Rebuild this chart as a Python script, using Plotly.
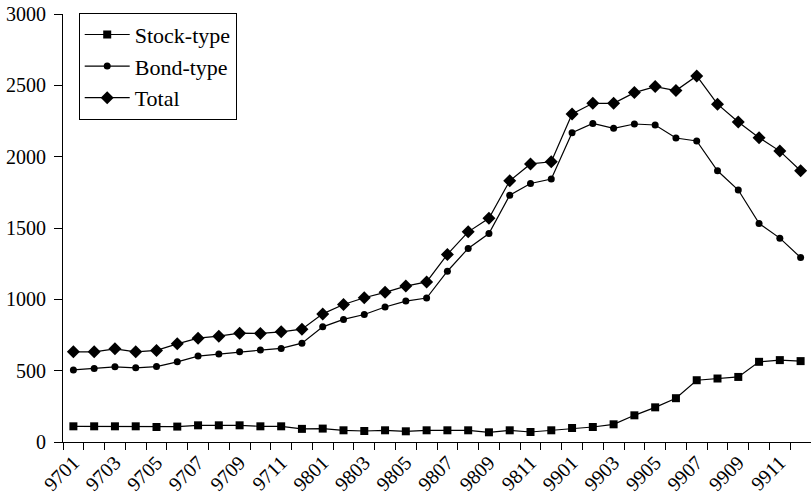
import plotly.graph_objects as go

months = [f"{y}{m:02d}" for y in (97, 98, 99) for m in range(1, 13)]
tick_text = [mo if i % 2 == 0 else "" for i, mo in enumerate(months)]

stock = [110, 110, 110, 110, 105, 108, 117, 117, 117, 110, 110, 92,
         94, 82, 77, 82, 75, 82, 82, 82, 68, 82, 70, 82,
         98, 105, 124, 187, 243, 307, 433, 445, 456, 562, 574, 567]
bond = [505, 515, 527, 520, 529, 562, 602, 616, 632, 644, 656, 693,
        807, 859, 894, 946, 988, 1009, 1197, 1357, 1461, 1730, 1812, 1843,
        2168, 2233, 2199, 2229, 2222, 2131, 2110, 1901, 1766, 1532, 1429, 1293]
total = [632, 632, 653, 632, 642, 688, 728, 742, 763, 761, 772, 791,
         898, 964, 1011, 1049, 1093, 1122, 1315, 1473, 1568, 1831, 1949, 1964,
         2299, 2374, 2374, 2449, 2491, 2463, 2566, 2368, 2243, 2133, 2039, 1901]

FONT = "Liberation Serif, Times New Roman, serif"

fig = go.Figure()
fig.add_trace(go.Scatter(x=months, y=stock, name="Stock-type", mode="lines+markers",
                         line=dict(color="black", width=1.2),
                         marker=dict(symbol="square", size=8, color="black")))
fig.add_trace(go.Scatter(x=months, y=bond, name="Bond-type", mode="lines+markers",
                         line=dict(color="black", width=1.2),
                         marker=dict(symbol="circle", size=7, color="black")))
fig.add_trace(go.Scatter(x=months, y=total, name="Total", mode="lines+markers",
                         line=dict(color="black", width=1.2),
                         marker=dict(symbol="diamond", size=10, color="black")))

fig.update_layout(
    width=811, height=498,
    margin=dict(l=63, r=0, t=14, b=56, autoexpand=False),
    paper_bgcolor="white", plot_bgcolor="white",
    font=dict(family=FONT, size=20, color="black"),
    showlegend=True,
    legend=dict(x=0.021, y=1.003, xanchor="left", yanchor="top",
                bordercolor="black", borderwidth=1, bgcolor="white",
                font=dict(family=FONT, size=22, color="black"),
                tracegroupgap=0, itemsizing="trace", itemwidth=45),
    xaxis=dict(type="category", range=[-0.5, 35.5], tickmode="array",
               tickvals=months, ticktext=tick_text, tickson="boundaries",
               ticks="outside", ticklen=7, tickcolor="black", tickwidth=1,
               tickangle=-45, showline=True, linecolor="black", linewidth=1,
               showgrid=False, zeroline=False, automargin=False,
               tickfont=dict(family=FONT, size=20, color="black")),
    yaxis=dict(range=[0, 3000], tickmode="array",
               tickvals=[0, 500, 1000, 1500, 2000, 2500, 3000],
               ticks="outside", ticklen=8, tickcolor="black", tickwidth=1,
               showline=True, linecolor="black", linewidth=1,
               showgrid=False, zeroline=False, automargin=False,
               ticklabelstandoff=4,
               tickfont=dict(family=FONT, size=20, color="black")),
)

fig.write_html("out.html", config={"displayModeBar": False},
               post_script="document.body.style.margin='0';")
